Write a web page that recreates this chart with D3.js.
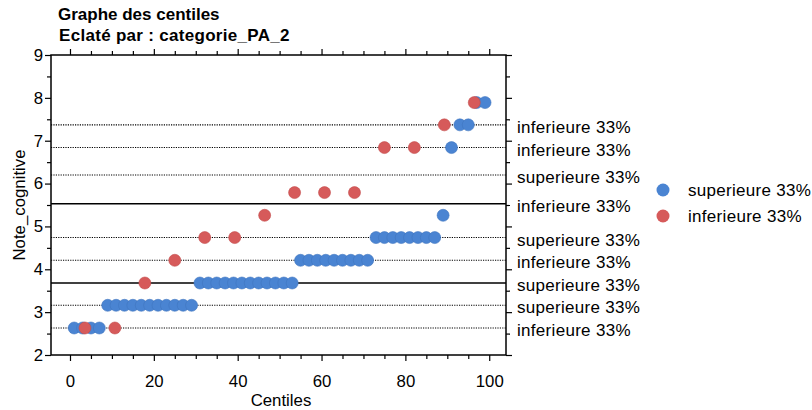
<!DOCTYPE html>
<html>
<head>
<meta charset="utf-8">
<script src="https://cdn.jsdelivr.net/npm/d3@7"></script>
<style>
  html, body { margin: 0; padding: 0; background: #fff; }
  svg { display: block; font-family: "Liberation Sans", Arial, sans-serif; }
</style>
</head>
<body>
<svg id="chart" width="812" height="410"></svg>
<script>
// ---- Data ----
const titleLines = ["Graphe des centiles", "Eclaté par : categorie_PA_2"];
const xLabel = "Centiles";
const yLabel = "Note_cognitive";

const seriesNames = ["superieure 33%", "inferieure 33%"];

// superieure 33% (blue)
const supX = [1,3,5,7, 9,11,13,15,17,19,21,23,25,27,29,
              31,33,35,37,39,41,43,45,47,49,51,53,
              55,57,59,61,63,65,67,69,71,
              73,75,77,79,81,83,85,87,
              89, 91, 93,95, 97,99];
const supY = [2.63,2.63,2.63,2.63,
              3.16,3.16,3.16,3.16,3.16,3.16,3.16,3.16,3.16,3.16,3.16,
              3.68,3.68,3.68,3.68,3.68,3.68,3.68,3.68,3.68,3.68,3.68,3.68,
              4.21,4.21,4.21,4.21,4.21,4.21,4.21,4.21,4.21,
              4.74,4.74,4.74,4.74,4.74,4.74,4.74,4.74,
              5.26, 6.84, 7.37,7.37, 7.89,7.89];

// inferieure 33% (red)
const infX = [3.57,10.71,17.86,25.0,32.14,39.29,46.43,53.57,60.71,67.86,75.0,82.14,89.29,96.43];
const infY = [2.63,2.63,3.68,4.21,4.74,4.74,5.26,5.79,5.79,5.79,6.84,6.84,7.37,7.89];

// reference lines (value, label, solid?)
const refValues = [7.37, 6.84, 6.20, 5.53, 4.74, 4.21, 3.68, 3.16, 2.63];
const refLabels = ["inferieure 33%","inferieure 33%","superieure 33%","inferieure 33%",
                   "superieure 33%","inferieure 33%","superieure 33%","superieure 33%","inferieure 33%"];
const refSolid  = [false,false,false,true,false,false,true,false,false];

const xMajorTicks = [0,20,40,60,80,100];
const xMinorTicks = [5,10,15,25,30,35,45,50,55,65,70,75,85,90,95];
const yMajorTicks = [2,3,4,5,6,7,8,9];
const yMinorTicks = [2.5,3.5,4.5,5.5,6.5,7.5,8.5];

const colors = ["#4a84d2", "#d65a5a"];

// ---- Layout ----
const svg = d3.select("#chart");
const L = 51, R = 506, T = 55, B = 355;
const x = d3.scaleLinear().domain([-4.53, 104.0]).range([L, R]);
const y = d3.scaleLinear().domain([2, 9]).range([B, T]);
const fs = 16.8;

// titles
svg.append("text").attr("x", 58).attr("y", 20).attr("font-size", 17).attr("font-weight", "bold")
   .text(titleLines[0]);
svg.append("text").attr("x", 59).attr("y", 41).attr("font-size", 17).attr("font-weight", "bold")
   .attr("letter-spacing", 0.3)
   .text(titleLines[1]);

// reference lines
const refs = svg.append("g");
refValues.forEach((v, i) => {
  refs.append("line")
    .attr("x1", L).attr("x2", R).attr("y1", y(v)).attr("y2", y(v))
    .attr("stroke", "#000")
    .attr("stroke-width", refSolid[i] ? 1.5 : 1.1)
    .attr("stroke-dasharray", refSolid[i] ? null : "1.2,1.2");
  svg.append("text")
    .attr("x", 517).attr("y", y(v) + 8)
    .attr("font-size", 17).attr("letter-spacing", 0.3)
    .text(refLabels[i]);
});

// axes
function styleAxis(g) {
  g.select(".domain").remove();
  g.selectAll("line").attr("stroke", "#000").attr("stroke-width", 1.2);
  g.selectAll("text").attr("font-size", fs).attr("fill", "#000")
   .attr("font-family", "'Liberation Sans', Arial, sans-serif");
}
svg.append("g").attr("transform", `translate(0,${B})`)
   .call(d3.axisBottom(x).tickValues(xMajorTicks).tickSize(6).tickPadding(14)).call(styleAxis);
svg.append("g").attr("transform", `translate(0,${B})`)
   .call(d3.axisBottom(x).tickValues(xMinorTicks).tickSize(4).tickFormat("")).call(styleAxis);
svg.append("g").attr("transform", `translate(0,${T})`)
   .call(d3.axisTop(x).tickValues(xMajorTicks).tickSize(6).tickFormat("")).call(styleAxis);
svg.append("g").attr("transform", `translate(0,${T})`)
   .call(d3.axisTop(x).tickValues(xMinorTicks).tickSize(4).tickFormat("")).call(styleAxis);
svg.append("g").attr("transform", `translate(${L},0)`)
   .call(d3.axisLeft(y).tickValues(yMajorTicks).tickSize(6).tickPadding(2).tickFormat(d3.format("d"))).call(styleAxis);
svg.append("g").attr("transform", `translate(${L},0)`)
   .call(d3.axisLeft(y).tickValues(yMinorTicks).tickSize(4).tickFormat("")).call(styleAxis);
svg.append("g").attr("transform", `translate(${R},0)`)
   .call(d3.axisRight(y).tickValues(yMajorTicks).tickSize(6).tickFormat("")).call(styleAxis);
svg.append("g").attr("transform", `translate(${R},0)`)
   .call(d3.axisRight(y).tickValues(yMinorTicks).tickSize(4).tickFormat("")).call(styleAxis);

// frame
svg.append("rect").attr("x", L).attr("y", T).attr("width", R - L).attr("height", B - T)
   .attr("fill", "none").attr("stroke", "#000").attr("stroke-width", 1.5);

// axis labels
svg.append("text").attr("x", 281).attr("y", 406).attr("text-anchor", "middle")
   .attr("font-size", fs).text(xLabel);
svg.append("text").attr("transform", `translate(25,${(T + B) / 2}) rotate(-90)`)
   .attr("text-anchor", "middle").attr("font-size", fs).text(yLabel);

// points
const supData = supX.map((d, i) => ({x: d, y: supY[i]}));
const infData = infX.map((d, i) => ({x: d, y: infY[i]}));
svg.append("g").selectAll("circle").data(supData).join("circle")
   .attr("cx", d => x(d.x)).attr("cy", d => y(d.y)).attr("r", 6)
   .attr("fill", colors[0]).attr("stroke", "#3f76c0").attr("stroke-width", 0.6);
svg.append("g").selectAll("circle").data(infData).join("circle")
   .attr("cx", d => x(d.x)).attr("cy", d => y(d.y)).attr("r", 6)
   .attr("fill", colors[1]).attr("stroke", "#c24c4c").attr("stroke-width", 0.6);

// legend
const leg = svg.append("g");
seriesNames.forEach((n, i) => {
  const cy = 190 + i * 26;
  leg.append("circle").attr("cx", 663).attr("cy", cy).attr("r", 6.5).attr("fill", colors[i]);
  leg.append("text").attr("x", 688).attr("y", cy + 6).attr("font-size", 17)
     .attr("letter-spacing", 0.3).text(n);
});
</script>
</body>
</html>
